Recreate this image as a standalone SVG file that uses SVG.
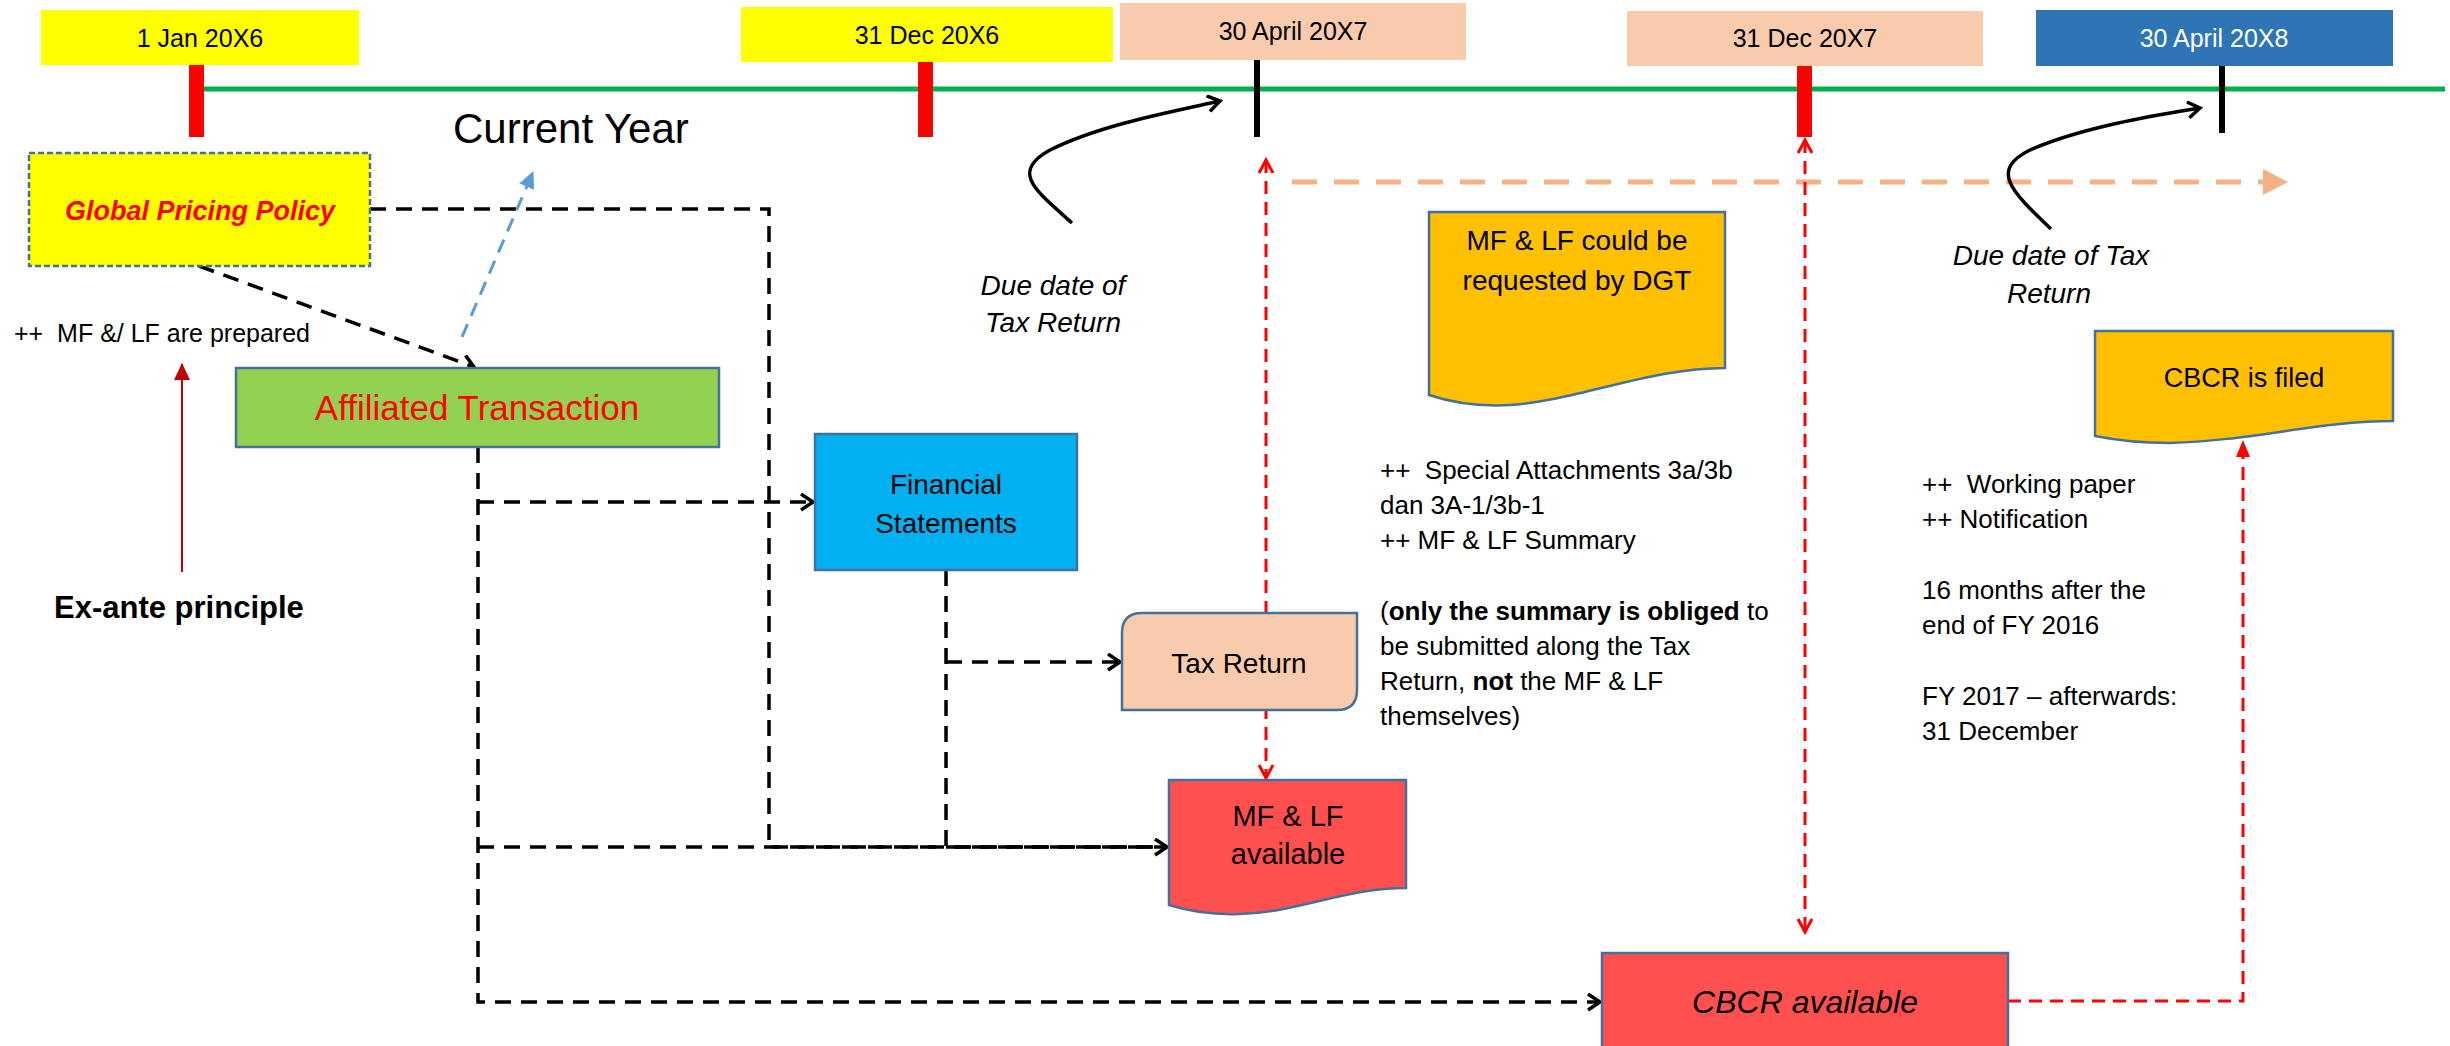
<svg xmlns="http://www.w3.org/2000/svg" width="2450" height="1046" viewBox="0 0 2450 1046">
<style>
text{font-family:"Liberation Sans",Arial,sans-serif;fill:#000}
.c{text-anchor:middle}
.d25{font-size:25px}
.t28{font-size:28px}
.t26{font-size:26px}
.node{stroke:#41719C;stroke-width:2.5}
.blk{stroke:#000;stroke-width:3.5;stroke-dasharray:16 10;fill:none}
.red{stroke:#FF0000;stroke-width:3;stroke-dasharray:13 8;fill:none}
.org{stroke:#F4B183;stroke-width:5;stroke-dasharray:25 17;fill:none}
.blu{stroke:#5B9BD5;stroke-width:3;stroke-dasharray:14 9;fill:none}
.curve{stroke:#000;stroke-width:3.5;fill:none}
</style>
<defs>
<marker id="openB" markerUnits="userSpaceOnUse" markerWidth="20" markerHeight="20" refX="14" refY="9" orient="auto"><path d="M2,1 L14,9 L2,17" fill="none" stroke="#000" stroke-width="3.5"/></marker>
<marker id="openR" markerUnits="userSpaceOnUse" markerWidth="20" markerHeight="20" refX="14" refY="8" orient="auto-start-reverse"><path d="M1,1 L14,8 L1,15" fill="none" stroke="#FF0000" stroke-width="3"/></marker>
<marker id="triO" markerUnits="userSpaceOnUse" markerWidth="28" markerHeight="28" refX="24" refY="13" orient="auto"><path d="M0,0 L25,13 L0,26 Z" fill="#F4B183"/></marker>
<marker id="triBl" markerUnits="userSpaceOnUse" markerWidth="20" markerHeight="20" refX="16" refY="8" orient="auto"><path d="M0,0 L17,8 L0,16 Z" fill="#5B9BD5"/></marker>
<marker id="triDR" markerUnits="userSpaceOnUse" markerWidth="20" markerHeight="20" refX="16" refY="8" orient="auto"><path d="M0,0 L17,8 L0,16 Z" fill="#C00000"/></marker>
<marker id="triR" markerUnits="userSpaceOnUse" markerWidth="20" markerHeight="20" refX="16" refY="7" orient="auto"><path d="M0,0 L17,7 L0,14 Z" fill="#FF0000"/></marker>
</defs>

<g id="timeline">
<line x1="204" y1="89" x2="2445" y2="89" stroke="#00B050" stroke-width="5"/>
<rect x="189" y="65" width="15" height="72" fill="#FF0000"/>
<rect x="918" y="62" width="15" height="75" fill="#FF0000"/>
<rect x="1254" y="60" width="6" height="77" fill="#000"/>
<rect x="1797" y="66" width="15" height="71" fill="#FF0000"/>
<rect x="2219" y="66" width="6" height="67" fill="#000"/>
</g>

<g id="date-1jan20x6"><rect x="41" y="10" width="318" height="55" fill="#FFFF00"/><text class="c d25" x="200" y="47">1 Jan 20X6</text></g>
<g id="date-31dec20x6"><rect x="741" y="7" width="372" height="55" fill="#FFFF00"/><text class="c d25" x="927" y="44">31 Dec 20X6</text></g>
<g id="date-30apr20x7"><rect x="1120" y="3" width="346" height="57" fill="#F8CBAD"/><text class="c d25" x="1293" y="40">30 April 20X7</text></g>
<g id="date-31dec20x7"><rect x="1627" y="11" width="356" height="55" fill="#F8CBAD"/><text class="c d25" x="1805" y="47">31 Dec 20X7</text></g>
<g id="date-30apr20x8"><rect x="2036" y="10" width="357" height="56" fill="#2E75B6"/><text class="c d25" x="2214" y="47" style="fill:#fff">30 April 20X8</text></g>

<g id="connectors">
<path class="blk" d="M370,209 H769 V847 H1167"/>
<path class="blk" d="M946,570 V847 H1167"/>
<path class="blk" d="M199,266 L474,367" marker-end="url(#openB)"/>
<path class="blk" d="M478,447 V1002 H1600" marker-end="url(#openB)"/>
<path class="blk" d="M478,502 H813" marker-end="url(#openB)"/>
<path class="blk" d="M478,847 H1167" marker-end="url(#openB)"/>
<path class="blk" d="M946,662 H1120" marker-end="url(#openB)"/>
<path class="blu" d="M462,337 L533,172" marker-end="url(#triBl)"/>
<path d="M182,572 V364" stroke="#C00000" stroke-width="2" fill="none" marker-end="url(#triDR)"/>
<path class="org" d="M1292,182 H2287" marker-end="url(#triO)"/>
<path class="red" d="M1266,160 V778" marker-start="url(#openR)" marker-end="url(#openR)"/>
<path class="red" d="M1805,140 V932" marker-start="url(#openR)" marker-end="url(#openR)"/>
<path class="red" d="M2008,1001 H2243 V441" marker-end="url(#triR)"/>
<path class="curve" d="M1072,223 C1035,190 1010,172 1050,150 C1100,125 1170,112 1220,101" marker-end="url(#openB)"/>
<path class="curve" d="M2051,229 C2010,190 1990,170 2030,150 C2080,128 2150,116 2200,108" marker-end="url(#openB)"/>
</g>

<g id="global-pricing-policy"><rect x="29" y="153" width="341" height="113" fill="#FFFF00" stroke="#41719C" stroke-width="2.5" stroke-dasharray="6 3"/><text class="c" x="200" y="220" style="font-size:27px;font-weight:bold;font-style:italic;fill:#FF0000">Global Pricing Policy</text></g>
<g id="current-year"><text x="453" y="143" style="font-size:42px">Current Year</text></g>
<g id="mf-lf-prepared"><text x="14" y="342" style="font-size:25px" xml:space="preserve">++  MF &amp;/ LF are prepared</text></g>
<g id="ex-ante"><text x="54" y="618" style="font-size:31px;font-weight:bold">Ex-ante principle</text></g>
<g id="affiliated-transaction"><rect class="node" x="236" y="368" width="483" height="79" fill="#92D050"/><text class="c" x="477" y="420" style="font-size:35px;fill:#FF0000">Affiliated Transaction</text></g>
<g id="financial-statements"><rect class="node" x="815" y="434" width="262" height="136" fill="#00B0F0"/><text class="c t28" x="946" y="494">Financial</text><text class="c t28" x="946" y="533">Statements</text></g>
<g id="tax-return"><path class="node" d="M1142,613 H1357 V690 Q1357,710 1337,710 H1122 V633 Q1122,613 1142,613 Z" fill="#F8CBAD"/><text class="c t28" x="1239" y="673">Tax Return</text></g>
<g id="mf-lf-available"><path class="node" d="M1169,780 H1406 V888 C1345,888 1300,912 1240,914 C1210,915 1185,910 1169,905 Z" fill="#FF5050"/><text class="c" x="1288" y="826" style="font-size:29px">MF &amp; LF</text><text class="c" x="1288" y="864" style="font-size:29px">available</text></g>
<g id="mf-lf-requested"><path class="node" d="M1429,212 H1725 V368 C1650,368 1580,400 1510,405 C1475,407 1450,402 1429,395 Z" fill="#FFC000"/><text class="c t28" x="1577" y="250">MF &amp; LF could be</text><text class="c t28" x="1577" y="290">requested by DGT</text></g>
<g id="cbcr-filed"><path class="node" d="M2095,331 H2393 V421 C2320,421 2250,441 2170,443 C2140,443 2115,440 2095,436 Z" fill="#FFC000"/><text class="c" x="2244" y="387" style="font-size:27px">CBCR is filed</text></g>
<g id="cbcr-available"><rect class="node" x="1602" y="953" width="406" height="110" fill="#FF5050"/><text class="c" x="1805" y="1013" style="font-size:32px;font-style:italic">CBCR available</text></g>

<g id="due-date-1"><text class="c t28" x="1053" y="295" style="font-style:italic">Due date of</text><text class="c t28" x="1053" y="332" style="font-style:italic">Tax Return</text></g>
<g id="due-date-2"><text class="c t28" x="2051" y="265" style="font-style:italic">Due date of Tax</text><text class="c t28" x="2049" y="303" style="font-style:italic">Return</text></g>

<g id="notes-mid">
<text class="t26" x="1380" y="479" xml:space="preserve">++  Special Attachments 3a/3b</text>
<text class="t26" x="1380" y="514">dan 3A-1/3b-1</text>
<text class="t26" x="1380" y="549">++ MF &amp; LF Summary</text>
<text class="t26" x="1380" y="620">(<tspan font-weight="bold">only the summary is obliged</tspan> to</text>
<text class="t26" x="1380" y="655">be submitted along the Tax</text>
<text class="t26" x="1380" y="690">Return, <tspan font-weight="bold">not</tspan> the MF &amp; LF</text>
<text class="t26" x="1380" y="725">themselves)</text>
</g>
<g id="notes-right">
<text class="t26" x="1922" y="493" xml:space="preserve">++  Working paper</text>
<text class="t26" x="1922" y="528">++ Notification</text>
<text class="t26" x="1922" y="599">16 months after the</text>
<text class="t26" x="1922" y="634">end of FY 2016</text>
<text class="t26" x="1922" y="705">FY 2017 – afterwards:</text>
<text class="t26" x="1922" y="740">31 December</text>
</g>
</svg>
